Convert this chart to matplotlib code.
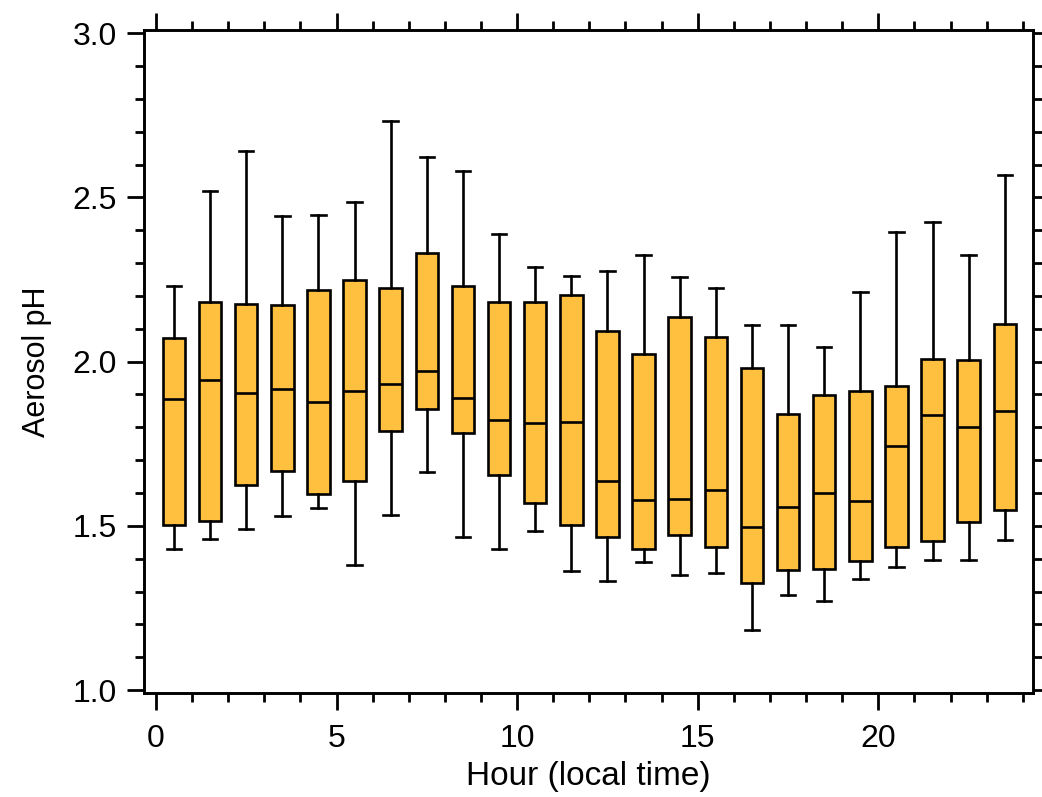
import matplotlib
matplotlib.use("Agg")
import matplotlib.pyplot as plt
from matplotlib.ticker import MultipleLocator

plt.rcParams['font.family'] = ['Liberation Sans', 'DejaVu Sans']

# hourly aerosol pH statistics
hours = [h + 0.5 for h in range(24)]
whisk_hi = [2.229, 2.519, 2.642, 2.442, 2.446, 2.486, 2.734, 2.623, 2.579, 2.389, 2.288, 2.262,
            2.275, 2.326, 2.257, 2.223, 2.112, 2.112, 2.045, 2.212, 2.395, 2.426, 2.324, 2.568]
q3 = [2.072, 2.180, 2.174, 2.172, 2.217, 2.247, 2.223, 2.332, 2.229, 2.181, 2.182, 2.203,
      2.093, 2.024, 2.135, 2.075, 1.981, 1.839, 1.897, 1.910, 1.927, 2.008, 2.004, 2.115]
med = [1.887, 1.945, 1.903, 1.917, 1.877, 1.909, 1.931, 1.972, 1.890, 1.822, 1.812, 1.815,
       1.635, 1.579, 1.581, 1.610, 1.496, 1.558, 1.600, 1.576, 1.742, 1.836, 1.802, 1.850]
q1 = [1.503, 1.514, 1.623, 1.666, 1.598, 1.635, 1.789, 1.855, 1.783, 1.655, 1.571, 1.501,
      1.467, 1.429, 1.472, 1.436, 1.327, 1.367, 1.369, 1.392, 1.437, 1.454, 1.511, 1.547]
whisk_lo = [1.429, 1.459, 1.490, 1.530, 1.553, 1.380, 1.534, 1.664, 1.466, 1.429, 1.483, 1.362,
            1.333, 1.389, 1.350, 1.356, 1.183, 1.288, 1.271, 1.339, 1.375, 1.396, 1.396, 1.457]

stats = []
for i in range(24):
    stats.append({'med': med[i], 'q1': q1[i], 'q3': q3[i],
                  'whislo': whisk_lo[i], 'whishi': whisk_hi[i], 'fliers': []})

fig = plt.figure(figsize=(10.42, 7.97), dpi=100)
ax = fig.add_axes([0.1385, 0.1305, 0.8525, 0.832])

lw = 1.9
ax.bxp(stats, positions=hours, widths=0.62, patch_artist=True, showfliers=False,
       boxprops=dict(facecolor='#FFC03F', edgecolor='black', linewidth=lw),
       medianprops=dict(color='black', linewidth=lw),
       whiskerprops=dict(color='black', linewidth=lw),
       capprops=dict(color='black', linewidth=lw),
       capwidths=0.4)

ax.set_xlim(-0.32, 24.27)
ax.set_ylim(0.991, 3.01)

ax.xaxis.set_major_locator(MultipleLocator(5))
ax.xaxis.set_minor_locator(MultipleLocator(1))
ax.yaxis.set_major_locator(MultipleLocator(0.5))
ax.yaxis.set_minor_locator(MultipleLocator(0.1))
ax.set_xticks(range(0, 25, 5))
ax.set_xticklabels([str(v) for v in range(0, 25, 5)])
ax.yaxis.set_major_formatter(matplotlib.ticker.FormatStrFormatter('%.1f'))

for s in ax.spines.values():
    s.set_linewidth(2.1)
ax.tick_params(which='both', direction='out', top=True, right=True, width=2.0, labelsize=23)
ax.tick_params(which='major', length=12.5)
ax.tick_params(which='minor', length=6.5)
ax.tick_params(axis='x', which='major', pad=10)
ax.tick_params(axis='y', which='major', pad=7)

ax.set_xlabel('Hour (local time)', fontsize=24, labelpad=5)
ax.set_ylabel('Aerosol pH', fontsize=22, labelpad=15)

fig.savefig('out.png', dpi=100)
